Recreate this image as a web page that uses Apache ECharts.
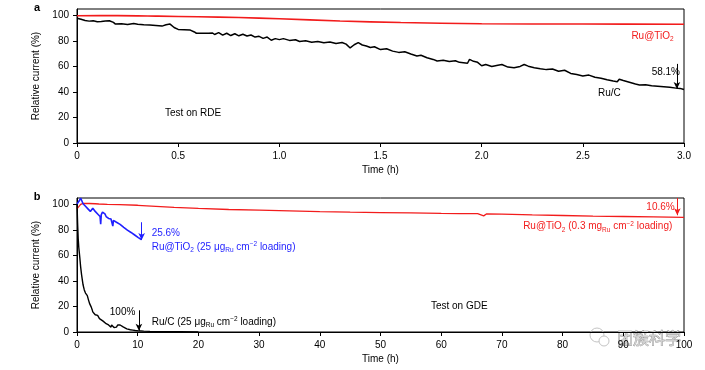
<!DOCTYPE html>
<html><head><meta charset="utf-8">
<script src="https://cdn.jsdelivr.net/npm/echarts@6/dist/echarts.min.js"></script>
<style>html,body{margin:0;padding:0;background:#fff}#main{width:705px;height:370px}</style>
</head><body><div id="main"></div>
<script>
// ---------- data ----------
// Panel a (RDE), time in h, relative current in %
const rdeRuC = [
[0.00,97.8],[0.02,97.0],[0.04,96.0],[0.06,95.5],[0.08,95.8],[0.10,95.0],[0.12,95.2],[0.14,95.6],[0.16,95.8],[0.18,94.5],
[0.19,93.2],[0.22,93.4],[0.25,92.8],[0.28,93.6],[0.30,93.0],[0.33,92.6],[0.36,92.4],[0.39,92.0],[0.42,91.6],[0.44,92.6],
[0.46,93.2],[0.48,90.5],[0.50,89.0],[0.53,88.8],[0.56,88.5],[0.58,87.0],[0.59,86.0],[0.65,86.0],[0.67,86.2],[0.68,85.0],
[0.70,86.5],[0.72,84.5],[0.74,86.0],[0.76,84.2],[0.78,85.6],[0.80,84.0],[0.82,85.2],[0.84,83.8],[0.86,84.6],[0.88,83.0],
[0.90,83.6],[0.92,82.0],[0.94,83.0],[0.96,80.5],[0.98,81.8],[1.00,81.0],[1.02,81.8],[1.05,80.4],[1.08,80.9],[1.10,79.5],
[1.13,80.2],[1.16,79.0],[1.19,79.6],[1.22,78.5],[1.25,79.2],[1.28,78.0],[1.31,78.8],[1.33,77.5],[1.35,74.5],[1.37,77.0],
[1.39,78.6],[1.41,76.8],[1.43,76.0],[1.45,74.8],[1.47,75.4],[1.50,73.2],[1.53,73.8],[1.56,72.0],[1.59,71.0],[1.62,71.5],
[1.65,69.8],[1.68,68.2],[1.70,68.8],[1.73,66.8],[1.76,65.5],[1.78,64.2],[1.81,64.8],[1.84,63.8],[1.87,64.5],[1.89,63.2],
[1.93,62.5],[1.94,65.5],[1.96,64.0],[1.98,63.2],[2.00,60.5],[2.02,61.5],[2.05,60.0],[2.08,61.0],[2.10,61.5],[2.13,59.5],
[2.16,59.0],[2.19,60.0],[2.21,61.5],[2.23,60.2],[2.26,59.0],[2.29,58.2],[2.32,57.5],[2.35,58.0],[2.38,56.2],[2.41,57.0],
[2.44,54.5],[2.47,53.6],[2.50,52.5],[2.53,53.2],[2.56,51.5],[2.59,50.8],[2.62,49.6],[2.65,48.5],[2.67,48.0],[2.68,50.0],
[2.70,49.0],[2.73,47.6],[2.76,46.2],[2.78,45.4],[2.81,45.6],[2.84,44.8],[2.87,44.4],[2.90,44.0],[2.93,43.6],[2.96,43.0],
[2.98,42.8],[3.00,41.9]
];
const rdeRuTiO2 = [
[0.0,99.7],[0.2,99.8],[0.4,99.4],[0.6,98.9],[0.8,98.3],[1.0,97.4],[1.3,95.6],[1.6,94.4],[2.0,93.4],[2.5,93.2],[3.0,93.0]
];
// Panel b (GDE)
const gdeRuTiO2High = [
[0,96.5],[0.3,98],[0.6,100],[1.0,100.8],[2,100.7],[3,100.5],[3.3,99.5],[3.6,100.3],[5,100],[7,99.8],[10,99.3],[13,98.5],
[16,97.6],[20,96.8],[25,96],[30,95.5],[35,94.9],[40,94.3],[45,93.9],[50,93.6],[55,93.3],[60,92.9],[63,92.8],[66,92.7],
[67,91.0],[67.5,92.6],[70,92.4],[75,91.8],[80,91.3],[85,90.8],[90,90.5],[95,90.2],[100,89.8]
];
const gdeRuTiO2Low = [
[0,100.2],[0.2,101.5],[0.4,103],[0.6,105],[0.8,103.5],[1.0,100.5],[1.2,99],[1.4,98.5],[1.6,97.5],[1.8,96.5],[2.0,96],
[2.2,94.5],[2.4,95.5],[2.6,97],[2.8,96],[3.0,94.5],[3.2,93.5],[3.4,92.5],[3.6,91.5],[3.8,90.5],[3.9,84.5],[4.0,92],
[4.2,94],[4.4,93.5],[4.6,92.5],[4.8,90.5],[5.0,90],[5.2,89],[5.4,90.5],[5.6,88.5],[5.8,87.5],[5.9,83],[6.0,87.5],
[6.2,87],[6.5,86],[6.8,85],[7.1,84.3],[7.4,83],[7.7,82],[8.0,80.5],[8.3,79.8],[8.6,79],[8.9,78],[9.2,77],[9.5,76],
[9.8,75],[10.1,74],[10.4,73],[10.6,72.5]
];
const gdeRuC = [
[0,100],[0.05,93],[0.1,85],[0.2,73],[0.3,66],[0.45,59],[0.6,51],[0.75,45],[0.9,40],[1.0,37],[1.1,35],[1.2,33],
[1.3,31.5],[1.4,30.5],[1.5,30],[1.6,29.5],[1.7,28.5],[1.8,27],[1.9,25],[2.0,23.5],[2.1,22],[2.2,20.5],
[2.35,19.5],[2.5,17.5],[2.6,15.8],[2.8,14.5],[3.0,13.5],[3.2,12.5],[3.4,13],[3.5,11.5],[3.7,10.5],[3.9,11],[4.0,9.5],
[4.3,8.5],[4.5,8],[4.8,6.5],[5.0,6.8],[5.2,5.5],[5.4,5.2],[5.6,3.8],[5.7,5.5],[5.9,5],[6.1,3.5],[6.3,4.2],[6.5,3.8],
[6.7,5.5],[6.9,6.2],[7.1,5.5],[7.3,4.5],[7.6,4],[7.9,3.2],[8.2,2.5],[8.5,2.2],[8.8,1.8],[9.2,1.5],[9.6,1.2],[10,1.0],
[11,0.7],[12,0.5],[14,0.3],[17,0.2],[20,0.1]
];
const yTicks = [0, 20, 40, 60, 80, 100];
const xTicksA = [0, 0.5, 1.0, 1.5, 2.0, 2.5, 3.0];
const xTicksB = [0, 10, 20, 30, 40, 50, 60, 70, 80, 90, 100];
// arrows [x, yFrom, yTo]
const arrowA = [2.965, 62, 42.3];
const arrowBlue = [10.65, 86, 72];
const arrowBlack = [10.2, 17, 1];
const arrowRed = [98.9, 105, 91.5];

// ---------- chart ----------
const FONT = '"Liberation Sans", Arial, sans-serif';
const chart = echarts.init(document.getElementById('main'), null, {renderer: 'canvas'});
const RED = '#f21c1c', BLUE = '#1f1fff', BLACK = '#000';

function xAxis(gi, max, interval, ticks, fmt) {
  return {
    type: 'value', gridIndex: gi, min: 0, max: max, interval: interval,
    name: 'Time (h)', nameLocation: 'middle', nameGap: 22,
    nameTextStyle: {fontFamily: FONT, fontSize: 10, color: '#000'},
    axisLine: {show: true, lineStyle: {color: '#000', width: 1}},
    axisTick: {show: true, inside: false, length: 4, lineStyle: {color: '#000'}, customValues: ticks},
    axisLabel: {fontFamily: FONT, fontSize: 10, color: '#000', margin: 8, customValues: ticks, formatter: fmt},
    splitLine: {show: false}
  };
}
function yAxis(gi) {
  return {
    type: 'value', gridIndex: gi, min: 0, max: 105, interval: 20,
    name: 'Relative current (%)', nameLocation: 'middle', nameGap: 33,
    nameTextStyle: {fontFamily: FONT, fontSize: 10, color: '#000'},
    axisLine: {show: true, lineStyle: {color: '#000', width: 1}},
    axisTick: {show: true, inside: false, length: 4, lineStyle: {color: '#000'}, customValues: yTicks},
    axisLabel: {fontFamily: FONT, fontSize: 10, color: '#000', margin: 8, customValues: yTicks},
    splitLine: {show: false}
  };
}
function arrowLine(a, color) {
  return {
    silent: true, symbol: ['none', 'arrow'], symbolSize: [5, 7], label: {show: false},
    lineStyle: {color: color, width: 1, type: 'solid'},
    data: [[{coord: [a[0], a[1]]}, {coord: [a[0], a[2]]}]]
  };
}
const option = {
  animation: false,
  backgroundColor: '#fff',
  grid: [
    {left: 77, right: 21, top: 9, height: 134, show: true, borderColor: '#000', borderWidth: 1, containLabel: false},
    {left: 77, right: 21, top: 198, height: 134, show: true, borderColor: '#000', borderWidth: 1, containLabel: false}
  ],
  xAxis: [
    xAxis(0, 3, 0.5, xTicksA, v => v === 0 ? '0' : v.toFixed(1)),
    xAxis(1, 100, 10, xTicksB, v => String(v))
  ],
  yAxis: [yAxis(0), yAxis(1)],
  series: [
    {type: 'line', xAxisIndex: 0, yAxisIndex: 0, data: rdeRuTiO2, showSymbol: false, smooth: 0.3,
     lineStyle: {color: RED, width: 1.6}},
    {type: 'line', xAxisIndex: 0, yAxisIndex: 0, data: rdeRuC, showSymbol: false,
     lineStyle: {color: BLACK, width: 1.5}, markLine: arrowLine(arrowA, BLACK)},
    {type: 'line', xAxisIndex: 1, yAxisIndex: 1, data: gdeRuTiO2High, showSymbol: false,
     lineStyle: {color: RED, width: 1.3}, markLine: arrowLine(arrowRed, RED)},
    {type: 'line', xAxisIndex: 1, yAxisIndex: 1, data: gdeRuTiO2Low, showSymbol: false,
     lineStyle: {color: BLUE, width: 1.6}, markLine: arrowLine(arrowBlue, BLUE)},
    {type: 'line', xAxisIndex: 1, yAxisIndex: 1, data: gdeRuC, showSymbol: false,
     lineStyle: {color: BLACK, width: 1.4}, markLine: arrowLine(arrowBlack, BLACK)}
  ]
};
chart.setOption(option);

function P(gi, x, y) { return chart.convertToPixel({gridIndex: gi}, [x, y]); }
function richFor(color) {
  return {
    n: {fontFamily: FONT, fontSize: 10, color: color, lineHeight: 13, verticalAlign: 'middle'},
    sub: {fontFamily: FONT, fontSize: 6.5, color: color, lineHeight: 13, verticalAlign: 'bottom'},
    sup: {fontFamily: FONT, fontSize: 6.5, color: color, lineHeight: 13, verticalAlign: 'top'}
  };
}
function txt(gi, x, y, text, color, align, vAlign) {
  const p = P(gi, x, y);
  return {type: 'text', x: p[0], y: p[1], silent: true,
    style: {text: text, rich: richFor(color), fill: color, font: '10px ' + FONT,
      align: align || 'left', verticalAlign: vAlign || 'middle'}};
}
const g = [
  // panel letters
  {type: 'text', x: 37, y: 8, style: {text: 'a', font: 'bold 11px ' + FONT, fill: '#000', align: 'center', verticalAlign: 'middle'}},
  {type: 'text', x: 37, y: 197, style: {text: 'b', font: 'bold 11px ' + FONT, fill: '#000', align: 'center', verticalAlign: 'middle'}},
  // panel a
  txt(0, 2.74, 84, '{n|Ru@TiO}{sub|2}', RED),
  txt(0, 2.84, 55.5, '{n|58.1%}', BLACK),
  txt(0, 2.575, 39, '{n|Ru/C}', BLACK),
  txt(0, 0.435, 23, '{n|Test on RDE}', BLACK),
  // panel b
  txt(1, 12.3, 77.5, '{n|25.6%}', BLUE),
  txt(1, 12.3, 66.5, '{n|Ru@TiO}{sub|2}{n| (25 μg}{sub|Ru}{n| cm}{sup|−2}{n| loading)}', BLUE),
  txt(1, 5.4, 15.5, '{n|100%}', BLACK),
  txt(1, 12.3, 7.5, '{n|Ru/C (25 μg}{sub|Ru}{n| cm}{sup|−2}{n| loading)}', BLACK),
  txt(1, 93.8, 97.5, '{n|10.6%}', RED),
  txt(1, 73.5, 82.5, '{n|Ru@TiO}{sub|2}{n| (0.3 mg}{sub|Ru}{n| cm}{sup|−2}{n| loading)}', RED),
  txt(1, 58.3, 20.5, '{n|Test on GDE}', BLACK),
  // watermark
  {type: 'group', x: 0, y: 0, silent: true, children: [
    {type: 'circle', shape: {cx: 597, cy: 335, r: 7}, style: {fill: 'none', stroke: '#c4c4c4', lineWidth: 1}},
    {type: 'circle', shape: {cx: 604, cy: 341, r: 5}, style: {fill: '#fff', stroke: '#c4c4c4', lineWidth: 1}},
    {type: 'text', x: 617, y: 338, style: {text: '团簇科学', font: '16px "Noto Sans CJK SC"', fill: '#d0d0d0', stroke: '#808080', lineWidth: 0.6, verticalAlign: 'middle'}}
  ]}
];
chart.setOption({graphic: g});
</script>
</body></html>
